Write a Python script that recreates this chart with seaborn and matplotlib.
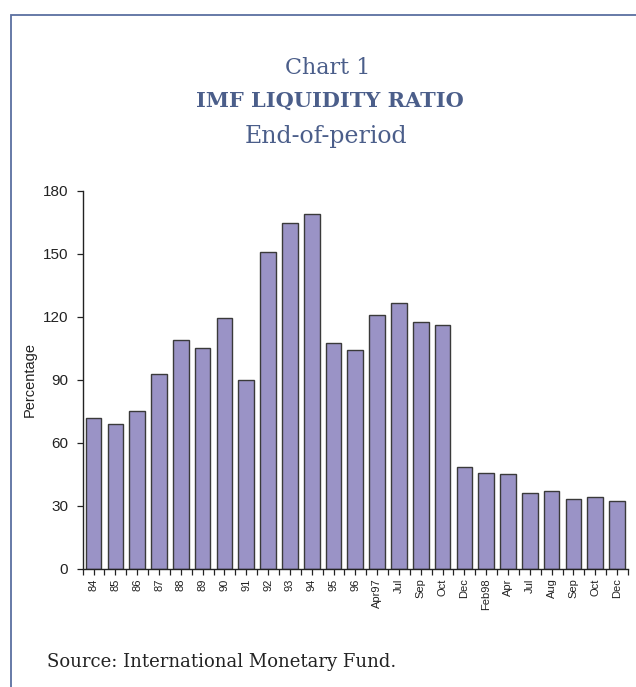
import numpy as np
import pandas as pd
import matplotlib
matplotlib.use("Agg")
import matplotlib.pyplot as plt
import seaborn as sns
from matplotlib.patches import Rectangle
from matplotlib.ticker import FixedLocator

# ---- data ----
labels = ["84", "85", "86", "87", "88", "89", "90", "91", "92", "93", "94", "95", "96",
          "Apr97", "Jul", "Sep", "Oct", "Dec",
          "Feb98", "Apr", "Jul", "Aug", "Sep", "Oct", "Dec"]
values = [71.5, 68.8, 75.0, 92.8, 108.7, 104.9, 119.2, 89.6, 150.6, 164.6, 168.7, 107.4, 104.1,
          120.8, 126.5, 117.4, 116.0, 48.3,
          45.5, 45.0, 36.2, 36.9, 33.4, 34.0, 32.1]
yticks = [0, 30, 60, 90, 120, 150, 180]

title_color = "#4b5e8a"
bar_color = "#9a93c6"

sns.set_theme(style="white")
plt.rcParams["font.family"] = ["Liberation Sans", "DejaVu Sans"]

fig = plt.figure(figsize=(6.36, 6.87), dpi=100)
ax = fig.add_axes([0.130, 0.1722, 0.8574, 0.5505])

df = pd.DataFrame({"idx": list(range(len(values))), "value": values})
sns.barplot(data=df, x="idx", y="value", color=bar_color, saturation=1,
            width=0.72, edgecolor="#3a3a3a", linewidth=1.0, ax=ax)

ax.set_xlim(-0.5, len(values) - 0.5)
ax.set_ylim(0, 180)
ax.set_yticks(yticks)
ax.set_yticklabels([str(t) for t in yticks], fontsize=11, color="#222222")
ax.set_xticks(range(len(labels)))
ax.set_xticklabels(labels, rotation=90, fontsize=8, color="#222222")
ax.xaxis.set_minor_locator(FixedLocator(np.arange(-0.5, len(values), 1.0)))
ax.tick_params(axis="x", which="both", direction="out", length=4, width=0.9,
               color="#222222", bottom=True, pad=3)
ax.tick_params(axis="y", direction="out", length=4.5, width=0.9, color="#222222",
               left=True, pad=6)
ax.set_xlabel("")
ax.set_ylabel("Percentage", fontsize=10.5, color="#222222", labelpad=4)
for s in ["top", "right"]:
    ax.spines[s].set_visible(False)
for s in ["left", "bottom"]:
    ax.spines[s].set_color("#222222")
    ax.spines[s].set_linewidth(1.0)

# titles
fig.text(328 / 636, 1 - 68 / 687, "Chart 1", ha="center", va="center",
         fontsize=16, family="DejaVu Serif", color=title_color)
fig.text(330 / 636, 1 - 101 / 687, "IMF LIQUIDITY RATIO", ha="center", va="center",
         fontsize=15, family="DejaVu Serif", fontweight="bold", color=title_color)
fig.text(326 / 636, 1 - 137 / 687, "End-of-period", ha="center", va="center",
         fontsize=17, family="DejaVu Serif", color=title_color)
fig.text(47 / 636, 1 - 662 / 687, "Source: International Monetary Fund.", ha="left",
         va="center", fontsize=13, family="DejaVu Serif", color="#222222")

# frame
fig.patches.append(Rectangle((10.5 / 636, -0.1), 1.2, 1 - 14.5 / 687 + 0.1,
                             transform=fig.transFigure, fill=False,
                             edgecolor="#5b6fa0", linewidth=1.3))

fig.savefig("out.png", dpi=100)
